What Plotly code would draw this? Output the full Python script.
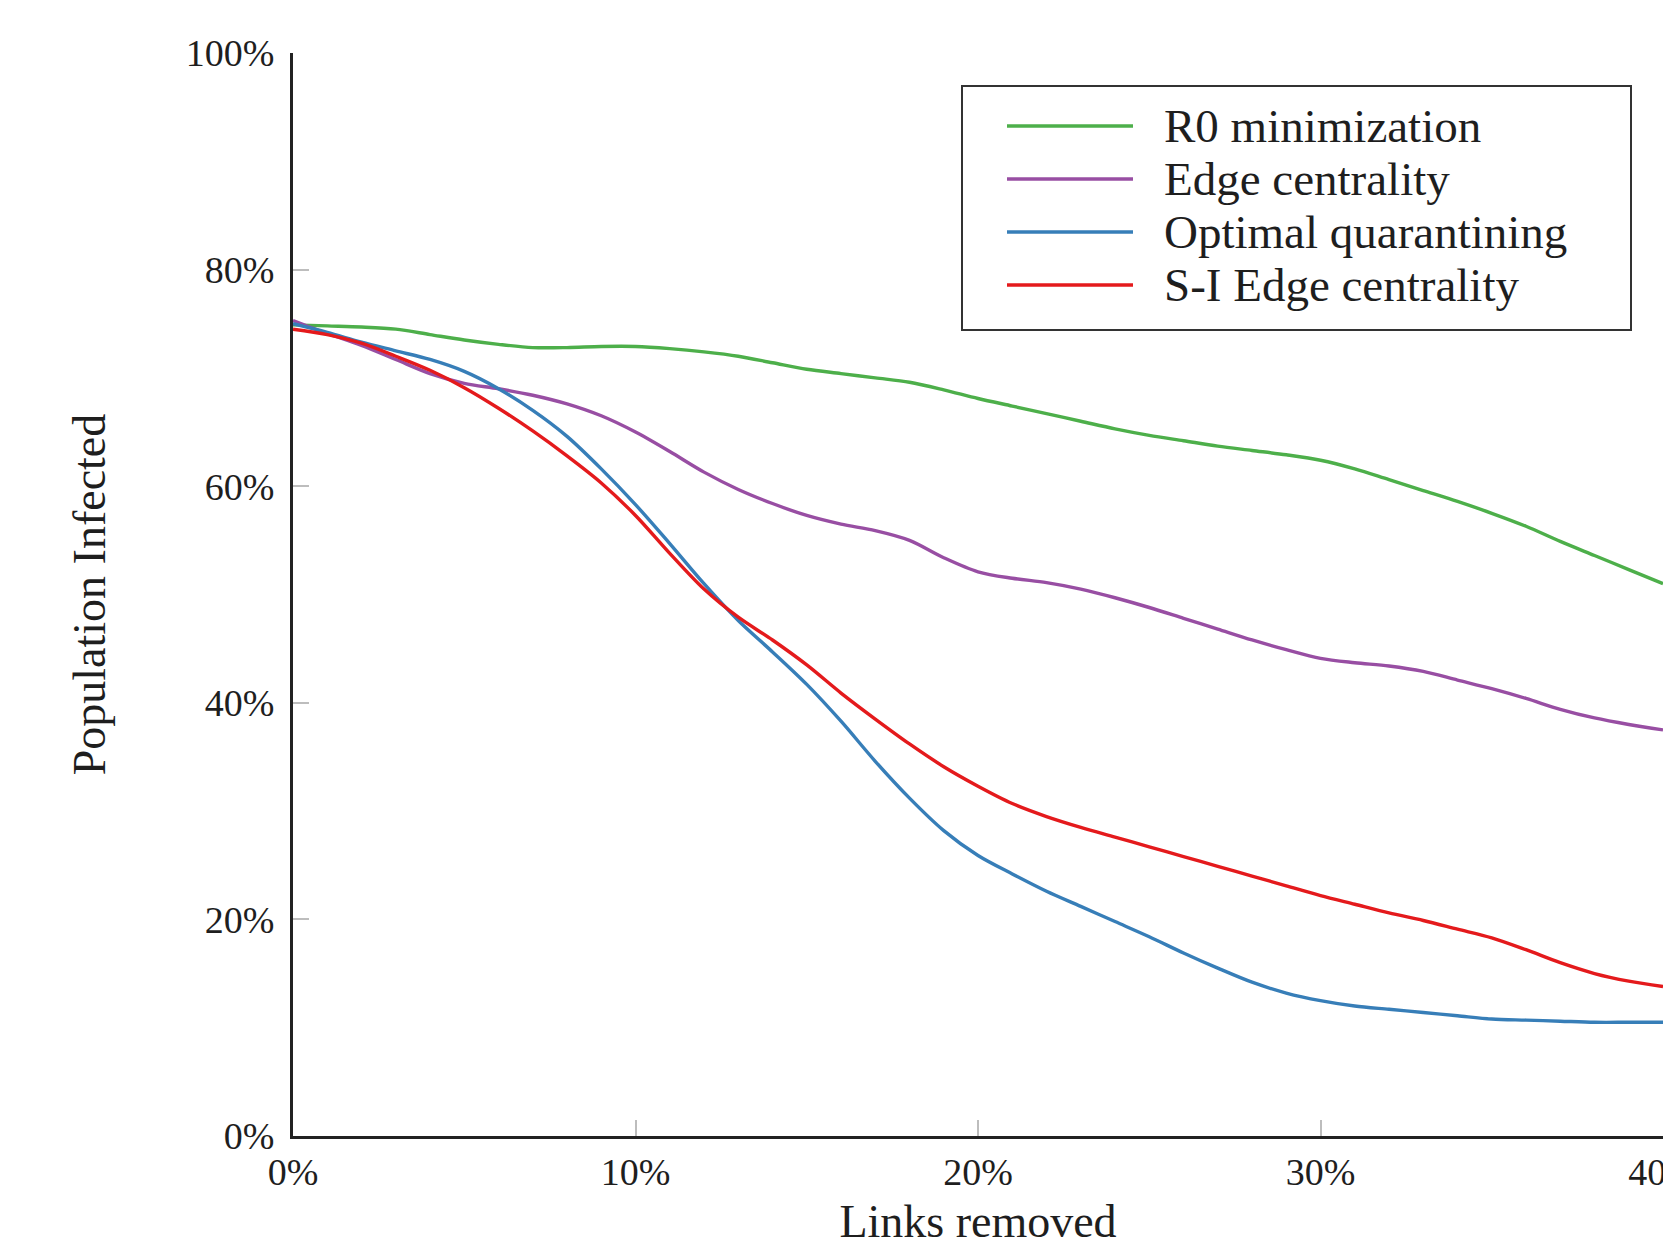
import plotly.graph_objects as go

# Links removed (%)
links_removed = list(range(0, 41))

r0_minimization = [74.9, 74.8, 74.7, 74.5, 74.0, 73.5, 73.1, 72.8, 72.8, 72.9,
                   72.9, 72.7, 72.4, 72.0, 71.4, 70.8, 70.4, 70.0, 69.6, 68.9,
                   68.1, 67.4, 66.7, 66.0, 65.3, 64.7, 64.2, 63.7, 63.3, 62.9,
                   62.4, 61.6, 60.6, 59.6, 58.6, 57.5, 56.3, 54.9, 53.6, 52.3, 51.0]

edge_centrality = [75.3, 74.1, 73.0, 71.7, 70.4, 69.5, 69.0, 68.4, 67.6, 66.5,
                   65.0, 63.2, 61.3, 59.7, 58.4, 57.3, 56.5, 55.9, 55.0, 53.4,
                   52.1, 51.5, 51.1, 50.5, 49.7, 48.8, 47.8, 46.8, 45.8, 44.9,
                   44.1, 43.7, 43.4, 42.9, 42.1, 41.3, 40.4, 39.4, 38.6, 38.0, 37.5]

optimal_quarantining = [75.0, 74.2, 73.3, 72.5, 71.7, 70.6, 69.0, 67.0, 64.6, 61.6,
                        58.3, 54.7, 51.0, 47.6, 44.7, 41.7, 38.3, 34.6, 31.2, 28.2,
                        25.9, 24.2, 22.6, 21.2, 19.8, 18.4, 16.9, 15.5, 14.2, 13.2,
                        12.5, 12.0, 11.7, 11.4, 11.1, 10.8, 10.7, 10.6, 10.5, 10.5, 10.5]

si_edge_centrality = [74.5, 74.0, 73.2, 72.0, 70.7, 69.1, 67.2, 65.1, 62.8, 60.3,
                      57.3, 53.8, 50.5, 47.9, 45.8, 43.5, 40.9, 38.5, 36.2, 34.1,
                      32.3, 30.7, 29.5, 28.5, 27.6, 26.7, 25.8, 24.9, 24.0, 23.1,
                      22.2, 21.4, 20.6, 19.9, 19.1, 18.3, 17.2, 16.0, 15.0, 14.3, 13.8]

series_names = ["R0 minimization", "Edge centrality", "Optimal quarantining", "S-I Edge centrality"]
series_values = [r0_minimization, edge_centrality, optimal_quarantining, si_edge_centrality]
series_colors = ["#4daf4a", "#984ea3", "#377eb8", "#e41a1c"]

x_ticks = [0, 10, 20, 30, 40]
y_ticks = [0, 20, 40, 60, 80, 100]
x_tick_labels = [f"{v}%" for v in x_ticks]
y_tick_labels = [f"{v}%" for v in y_ticks]

FONT = "Liberation Serif, Times New Roman, serif"
TXT = "#1e1e1e"

fig = go.Figure()
for name, vals, col in zip(series_names, series_values, series_colors):
    fig.add_trace(go.Scatter(
        x=links_removed, y=vals, mode="lines", name=name,
        line=dict(color=col, width=3.4, shape="spline", smoothing=0.9),
        showlegend=False,
    ))

W, H = 1663, 1247
L, R, T, B = 293, 0, 53, 111

fig.update_layout(
    width=W, height=H,
    margin=dict(l=L, r=R, t=T, b=B, pad=0, autoexpand=False),
    paper_bgcolor="white", plot_bgcolor="white",
    font=dict(family=FONT, color=TXT, size=38),
    xaxis=dict(
        range=[0, 40], tickmode="array", tickvals=x_ticks, ticktext=x_tick_labels,
        showgrid=False, zeroline=False, automargin=False,
        showline=True, linecolor="#222222", linewidth=3,
        ticks="inside", ticklen=16, tickwidth=2, tickcolor="#bdbdbd",
        tickfont=dict(family=FONT, size=38, color=TXT),
        ticklabelstandoff=0, ticklabeloverflow="allow",
        title=dict(text="Links removed", font=dict(family=FONT, size=46, color=TXT), standoff=33),
    ),
    yaxis=dict(
        range=[0, 100], tickmode="array", tickvals=y_ticks, ticktext=y_tick_labels,
        showgrid=False, zeroline=False, automargin=False,
        showline=True, linecolor="#222222", linewidth=3,
        ticks="inside", ticklen=16, tickwidth=2, tickcolor="#bdbdbd",
        tickfont=dict(family=FONT, size=38, color=TXT),
        ticklabelstandoff=8, ticklabeloverflow="allow",
        title=dict(text="Population Infected", font=dict(family=FONT, size=46, color=TXT), standoff=66),
    ),
)

# Manual legend (box, line samples, labels) in paper coordinates
pw, ph = W - L - R, H - T - B
def px_to_paper_x(px):
    return (px - L) / pw
def py_to_paper_y(py):
    return (H - B - py) / ph

fig.add_shape(type="rect", xref="paper", yref="paper",
              x0=px_to_paper_x(962), x1=px_to_paper_x(1631),
              y0=py_to_paper_y(330), y1=py_to_paper_y(86),
              line=dict(color="#333333", width=2), fillcolor="white", layer="above")

row_y = [126, 179, 232, 285]
for name, col, ry in zip(series_names, series_colors, row_y):
    yp = py_to_paper_y(ry)
    fig.add_shape(type="line", xref="paper", yref="paper",
                  x0=px_to_paper_x(1007), x1=px_to_paper_x(1133), y0=yp, y1=yp,
                  line=dict(color=col, width=3.4), layer="above")
    fig.add_annotation(xref="paper", yref="paper", x=px_to_paper_x(1162), y=yp,
                       text=name, showarrow=False, xanchor="left", yanchor="middle",
                       font=dict(family=FONT, size=47, color=TXT))

fig.write_html("out.html")
